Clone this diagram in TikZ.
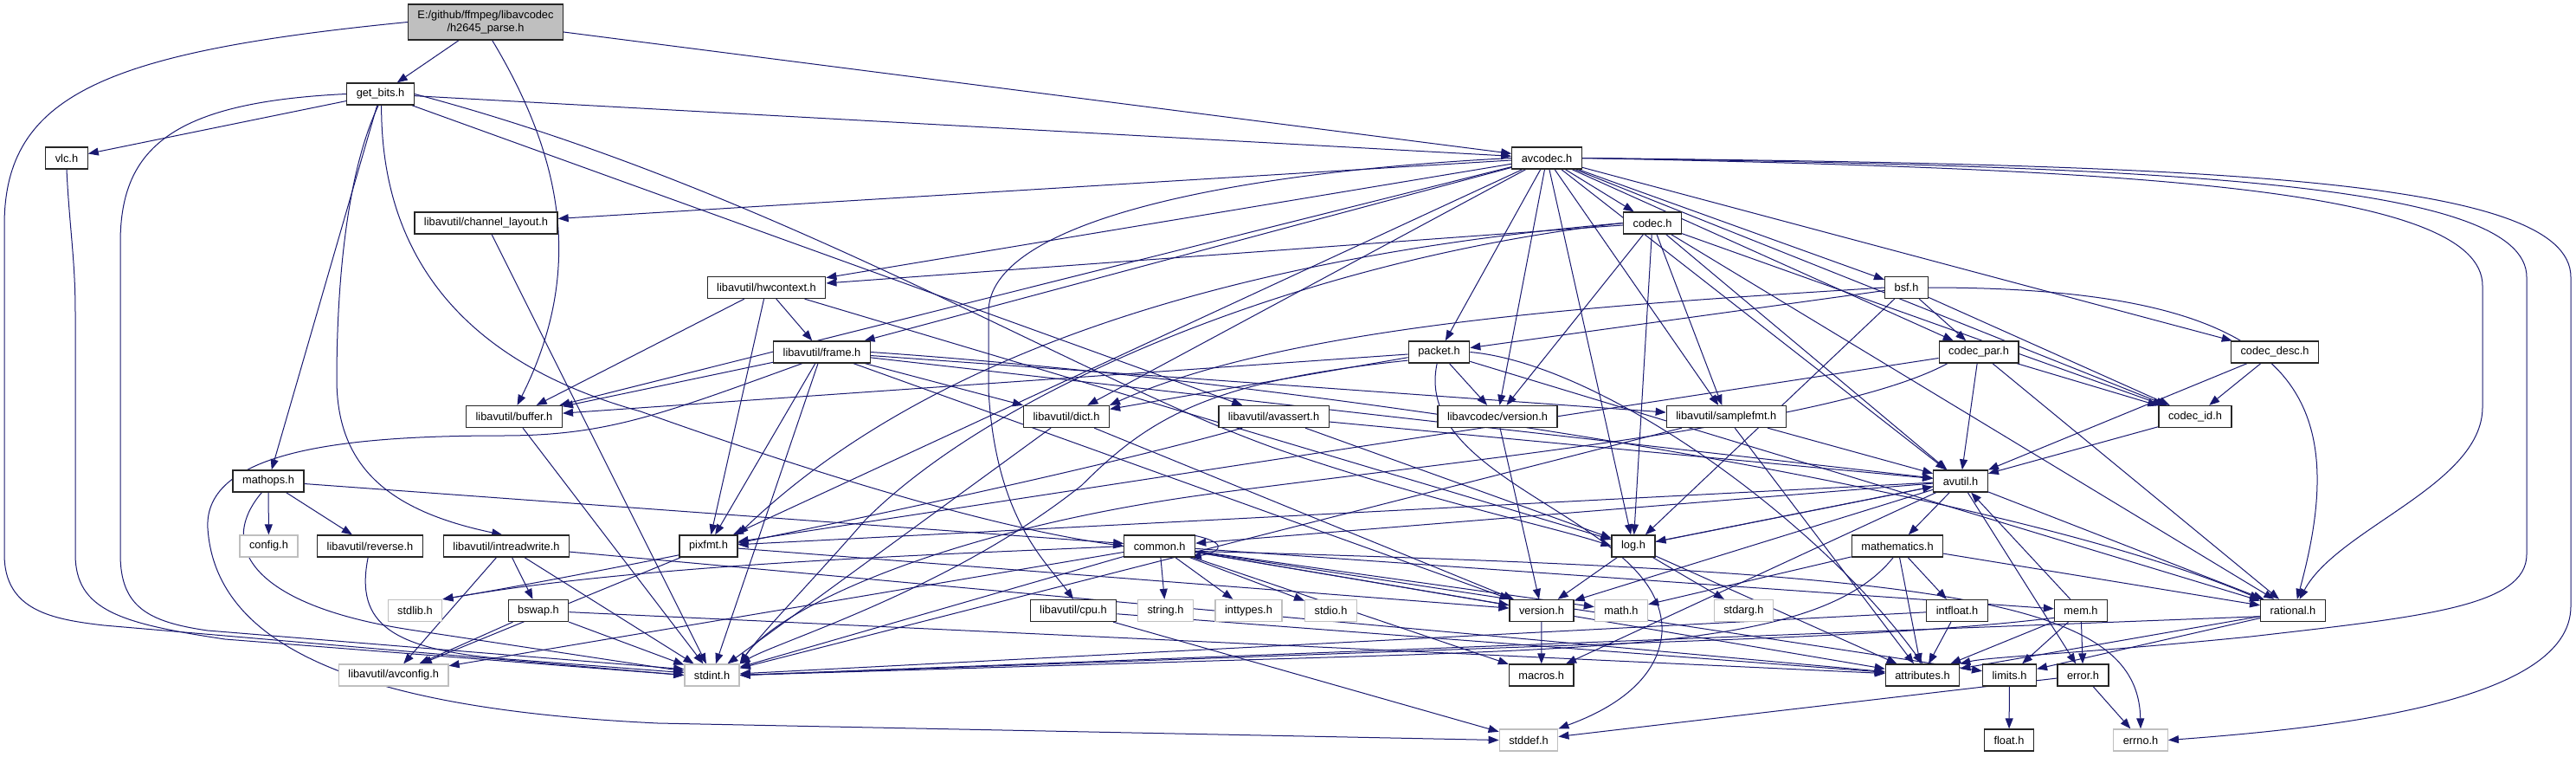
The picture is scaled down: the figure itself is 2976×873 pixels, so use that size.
\documentclass[tikz,border=0pt]{standalone}
\usepackage{fontspec}
\setmainfont{Liberation Sans}
\usepackage{tikz}
\usetikzlibrary{arrows.meta,backgrounds}
\usepackage{xcolor}
\definecolor{edgec}{HTML}{191970}
\definecolor{sysc}{HTML}{BFBFBF}
\definecolor{rootc}{HTML}{BFBFBF}
\tikzset{
  filebox/.style={draw=black!85, fill=white, line width=1.3pt, inner xsep=11pt,
              inner ysep=0pt, minimum height=25pt, font=\fontsize{12.8}{14.6}\selectfont},
  sysbox/.style={filebox, draw=sysc},
  rootbox/.style={filebox, fill=rootc, align=center, minimum height=41pt},
  incl/.style={->, draw=edgec, line width=1pt},
  >={Triangle[length=12pt,width=9pt]},
}

\begin{document}
\begin{tikzpicture}[x=1pt,y=-1pt]
\useasboundingbox (0,0) rectangle (2976,873);
% rows of headers
\node[rootbox] (top) at (561,25.5) {E:/github/ffmpeg/libavcodec\\/h2645\_parse.h};
\node[filebox] (getbits) at (439.5,108.5) {get\_bits.h};
\node[filebox] (vlc) at (77,182.5) {vlc.h};
\node[filebox] (avcodec) at (1787,182.5) {avcodec.h};
\node[filebox] (chlayout) at (561.5,257.5) {libavutil/channel\_layout.h};
\node[filebox] (codec) at (1909,257.5) {codec.h};
\node[filebox] (hwctx) at (885.5,332) {libavutil/hwcontext.h};
\node[filebox] (bsf) at (2202.5,332) {bsf.h};
\node[filebox] (frame) at (949.5,406.5) {libavutil/frame.h};
\node[filebox] (packet) at (1662.5,406.5) {packet.h};
\node[filebox] (codecpar) at (2286,406.5) {codec\_par.h};
\node[filebox] (codecdesc) at (2628,406.5) {codec\_desc.h};
\node[filebox] (buffer) at (594,481) {libavutil/buffer.h};
\node[filebox] (dict) at (1232,481) {libavutil/dict.h};
\node[filebox] (avassert) at (1471.5,481) {libavutil/avassert.h};
\node[filebox] (lcversion) at (1730,481) {libavcodec/version.h};
\node[filebox] (samplefmt) at (1994.3,481) {libavutil/samplefmt.h};
\node[filebox] (codecid) at (2536,481) {codec\_id.h};
\node[filebox] (mathops) at (310,555.5) {mathops.h};
\node[filebox] (avutil) at (2265,555.5) {avutil.h};
\node[sysbox] (config) at (310.5,630.5) {config.h};
\node[filebox] (reverse) at (427.5,630.5) {libavutil/reverse.h};
\node[filebox] (intrw) at (585,630.5) {libavutil/intreadwrite.h};
\node[filebox] (pixfmt) at (818.5,630.5) {pixfmt.h};
\node[filebox] (common) at (1339.7,630.5) {common.h};
\node[filebox] (log) at (1887,630.5) {log.h};
\node[filebox] (mathem) at (2192,630.5) {mathematics.h};
\node[sysbox] (stdlib) at (479.5,705) {stdlib.h};
\node[filebox] (bswap) at (622,705) {bswap.h};
\node[filebox] (cpu) at (1240,705) {libavutil/cpu.h};
\node[sysbox] (stringh) at (1346.5,705) {string.h};
\node[sysbox] (inttypes) at (1442.5,705) {inttypes.h};
\node[sysbox] (stdio) at (1537.5,705) {stdio.h};
\node[filebox] (version) at (1781,705) {version.h};
\node[sysbox] (mathh) at (1873,705) {math.h};
\node[sysbox] (stdarg) at (2014.4,705) {stdarg.h};
\node[filebox] (intfloat) at (2261,705) {intfloat.h};
\node[filebox] (mem) at (2404,705) {mem.h};
\node[filebox] (rational) at (2649,705) {rational.h};
\node[sysbox] (avconfig) at (454.7,779.5) {libavutil/avconfig.h};
\node[sysbox] (stdint) at (822.5,779.5) {stdint.h};
\node[filebox] (macros) at (1780.7,779.5) {macros.h};
\node[filebox] (attrs) at (2221,779.5) {attributes.h};
\node[filebox] (limits) at (2321.5,779.5) {limits.h};
\node[filebox] (errorh) at (2406.5,779.5) {error.h};
\node[sysbox] (stddef) at (1766,854.5) {stddef.h};
\node[filebox] (floath) at (2321,854.5) {float.h};
\node[sysbox] (errnoh) at (2473,854.5) {errno.h};

\begin{scope}[on background layer]
\fill[white] (0,0) rectangle (2976,873);
% h2645_parse.h
\draw[incl] (top) -- (getbits);
\draw[incl] (top) -- (avcodec);
\draw[incl] (top.-70) .. controls (655,190) and (672,320) .. (buffer.75);
\draw[incl] (top.west) .. controls (120,60) and (5,110) .. (5,260) -- (5,640) .. controls (5,705) and (60,715) .. (120,722) -- (stdint.west);
% get_bits.h
\draw[incl] (getbits) -- (vlc);
\draw[incl] (getbits.west) .. controls (200,118) and (139,170) .. (139,280) -- (139,640) .. controls (139,700) and (170,718) .. (240,728) -- (stdint.168);
\draw[incl] (getbits) -- (mathops);
\draw[incl] (getbits.-100) .. controls (400,200) and (389,330) .. (389,440) .. controls (390,540) and (450,590) .. (intrw.110);
\draw[incl] (getbits.-85) .. controls (440,300) and (540,420) .. (740,475) .. controls (950,550) and (1150,610) .. (common.west);
\draw[incl] (getbits) -- (avcodec);
\draw[incl] (getbits) -- (avassert);
\draw[incl] (getbits.east) .. controls (900,220) and (1250,440) .. (1480,520) .. controls (1650,578) and (1800,610) .. (log.west);
\draw[incl] (vlc.south) .. controls (80,260) and (87,300) .. (87,360) -- (87,640) .. controls (87,705) and (140,720) .. (260,738) -- (stdint.west);
% avcodec.h
\draw[incl] (avcodec) -- (chlayout);
\draw[incl] (avcodec) -- (hwctx);
\draw[incl] (avcodec) -- (frame);
\draw[incl] (avcodec) -- (buffer);
\draw[incl] (avcodec) -- (dict);
\draw[incl] (avcodec) -- (pixfmt);
\draw[incl] (avcodec.west) .. controls (1400,200) and (1142,260) .. (1142,360) -- (1142,450) .. controls (1150,600) and (1210,650) .. (cpu.north);
\draw[incl] (avcodec) -- (packet);
\draw[incl] (avcodec) -- (lcversion);
\draw[incl] (avcodec) -- (log);
\draw[incl] (avcodec) -- (samplefmt);
\draw[incl] (avcodec) -- (codec);
\draw[incl] (avcodec) -- (bsf);
\draw[incl] (avcodec) -- (codecpar);
\draw[incl] (avcodec) -- (codecid);
\draw[incl] (avcodec) -- (codecdesc);
\draw[incl] (avcodec) -- (avutil);
\draw[incl] (avcodec.east) .. controls (2450,195) and (2868,215) .. (2868,330) -- (2868,470) .. controls (2868,560) and (2700,610) .. (rational.60);
\draw[incl] (avcodec.east) .. controls (2500,192) and (2919,210) .. (2919,320) -- (2919,640) .. controls (2919,700) and (2800,712) .. (2600,735) .. controls (2400,755) and (2300,758) .. (attrs.north east);
\draw[incl] (avcodec.east) .. controls (2550,190) and (2970,205) .. (2970,320) -- (2970,700) .. controls (2970,810) and (2700,840) .. (errnoh.east);
% codec.h
\draw[incl] (codec.west) .. controls (1500,300) and (1150,450) .. (1000,600) .. controls (930,680) and (880,730) .. (stdint.north east);
\draw[incl] (codec) -- (avutil);
\draw[incl] (codec) -- (hwctx);
\draw[incl] (codec) -- (log);
\draw[incl] (codec.west) .. controls (1500,290) and (1100,380) .. (pixfmt.north east);
\draw[incl] (codec) -- (rational);
\draw[incl] (codec) -- (samplefmt);
\draw[incl] (codec) -- (codecid);
\draw[incl] (codec) -- (lcversion);
% bsf.h, codec_par.h, codec_desc.h, codec_id.h
\draw[incl] (bsf.west) .. controls (1900,350) and (1500,370) .. (dict.north east);
\draw[incl] (bsf) -- (log);
\draw[incl] (bsf.east) .. controls (2650,332) and (2720,450) .. (rational.70);
\draw[incl] (bsf) -- (codecid);
\draw[incl] (bsf) -- (codecpar);
\draw[incl] (bsf) -- (packet);
\draw[incl] (codecpar.-160) .. controls (2120,490) and (1700,530) .. (1400,570) .. controls (1100,610) and (900,700) .. (stdint.north east);
\draw[incl] (codecpar) -- (avutil);
\draw[incl] (codecpar) -- (rational);
\draw[incl] (codecpar) -- (pixfmt);
\draw[incl] (codecpar) -- (codecid);
\draw[incl] (codecdesc) -- (avutil);
\draw[incl] (codecdesc) -- (codecid);
\draw[incl] (codecid) -- (avutil);
% packet.h
\draw[incl] (packet.-100) .. controls (1630,560) and (1925,600) .. (1920,730) .. controls (1915,800) and (1830,830) .. (stddef.north east);
\draw[incl] (packet.-165) .. controls (1400,440) and (1330,480) .. (1250,560) .. controls (1100,680) and (900,740) .. (stdint.north east);
\draw[incl] (packet.east) .. controls (1850,420) and (2100,600) .. (attrs.north);
\draw[incl] (packet) -- (buffer);
\draw[incl] (packet) -- (dict);
\draw[incl] (packet) -- (rational);
\draw[incl] (packet) -- (lcversion);
\draw[incl] (lcversion) -- (version);
% hwcontext.h, frame.h
\draw[incl] (hwctx) -- (buffer);
\draw[incl] (hwctx) -- (frame);
\draw[incl] (hwctx) -- (log);
\draw[incl] (hwctx) -- (pixfmt);
\draw[incl] (frame.-150) .. controls (760,480) and (700,503) .. (580,503) .. controls (400,503) and (235,520) .. (240,610) .. controls (250,760) and (450,820) .. (760,835) -- (stddef.west);
\draw[incl] (frame) -- (stdint);
\draw[incl] (frame) -- (avutil);
\draw[incl] (frame) -- (buffer);
\draw[incl] (frame) -- (dict);
\draw[incl] (frame.east) .. controls (1500,440) and (2300,560) .. (rational.north west);
\draw[incl] (frame) -- (samplefmt);
\draw[incl] (frame) -- (pixfmt);
\draw[incl] (frame) -- (version);
% small libavutil headers
\draw[incl] (chlayout) -- (stdint);
\draw[incl] (buffer) -- (stdint);
\draw[incl] (dict) -- (stdint);
\draw[incl] (dict) -- (version);
\draw[incl] (avassert.-160) .. controls (1200,560) and (700,660) .. (stdlib.north east);
\draw[incl] (avassert) -- (avutil);
\draw[incl] (avassert) -- (log);
\draw[incl] (samplefmt) -- (stdint);
\draw[incl] (samplefmt) -- (avutil);
\draw[incl] (samplefmt) -- (attrs);
% mathops.h and friends
\draw[incl] (mathops.-120) .. controls (250,630) and (290,700) .. (480,728) -- (stdint.172);
\draw[incl] (mathops) -- (common);
\draw[incl] (mathops) -- (config);
\draw[incl] (mathops) -- (reverse);
\draw[incl] (reverse.-100) .. controls (410,720) and (450,752) .. (600,762) -- (stdint.175);
\draw[incl] (intrw) -- (stdint);
\draw[incl] (intrw) -- (avconfig);
\draw[incl] (intrw) -- (attrs);
\draw[incl] (intrw) -- (bswap);
\draw[incl] (bswap) -- (stdint);
\draw[incl] (bswap) -- (avconfig);
\draw[incl] (bswap) -- (attrs);
% avutil.h
\draw[incl] (avutil) -- (common);
\draw[incl] (avutil) -- (errorh);
\draw[incl] (avutil) -- (rational);
\draw[incl] (avutil) -- (version);
\draw[incl] (avutil) -- (macros);
\draw[incl] (avutil) -- (mathem);
\draw[incl] (avutil) -- (log);
\draw[incl] (avutil) -- (pixfmt);
\draw[incl] (pixfmt) -- (avconfig);
\draw[incl] (pixfmt) -- (version);
% common.h
\draw[incl] (common) -- (stdint);
\draw[incl] (common.west) .. controls (1100,640) and (750,650) .. (stdlib.north east);
\draw[incl] (common) -- (avconfig);
\draw[incl] (common) -- (stringh);
\draw[incl] (common) -- (inttypes);
\draw[incl] (common) -- (stdio);
\draw[incl] (common) -- (mathh);
\draw[incl] (common) -- (version);
\draw[incl] (common) -- (macros);
\draw[incl] (common) -- (attrs);
\draw[incl] (common) -- (limits);
\draw[incl] (common) -- (mem);
\draw[incl] (common.-8) .. controls (2250,660) and (2470,690) .. (errnoh.north);
\draw[incl] (common.20) .. controls +(40,8) and +(40,-8) .. (common.-20);
% log.h, mathematics.h
\draw[incl] (log) -- (stdarg);
\draw[incl] (log) -- (avutil);
\draw[incl] (log) -- (attrs);
\draw[incl] (log) -- (version);
\draw[incl] (mathem.-110) .. controls (2110,740) and (1900,748) .. (1500,760) -- (stdint.east);
\draw[incl] (mathem) -- (mathh);
\draw[incl] (mathem) -- (attrs);
\draw[incl] (mathem) -- (rational);
\draw[incl] (mathem) -- (intfloat);
% bottom rows
\draw[incl] (intfloat) -- (stdint);
\draw[incl] (intfloat) -- (attrs);
\draw[incl] (mem) -- (limits);
\draw[incl] (mem.-165) .. controls (2250,728) and (2100,735) .. (1900,742) -- (stdint.east);
\draw[incl] (mem) -- (attrs);
\draw[incl] (mem) -- (errorh);
\draw[incl] (mem) -- (avutil);
\draw[incl] (rational.-170) -- (stdint.east);
\draw[incl] (rational) -- (limits);
\draw[incl] (rational) -- (attrs);
\draw[incl] (errorh) -- (errnoh);
\draw[incl] (errorh) -- (stddef);
\draw[incl] (limits) -- (floath);
\draw[incl] (version) -- (macros);
\draw[incl] (cpu) -- (stddef);
\draw[incl] (cpu) -- (attrs);
\end{scope}
\end{tikzpicture}
\end{document}
